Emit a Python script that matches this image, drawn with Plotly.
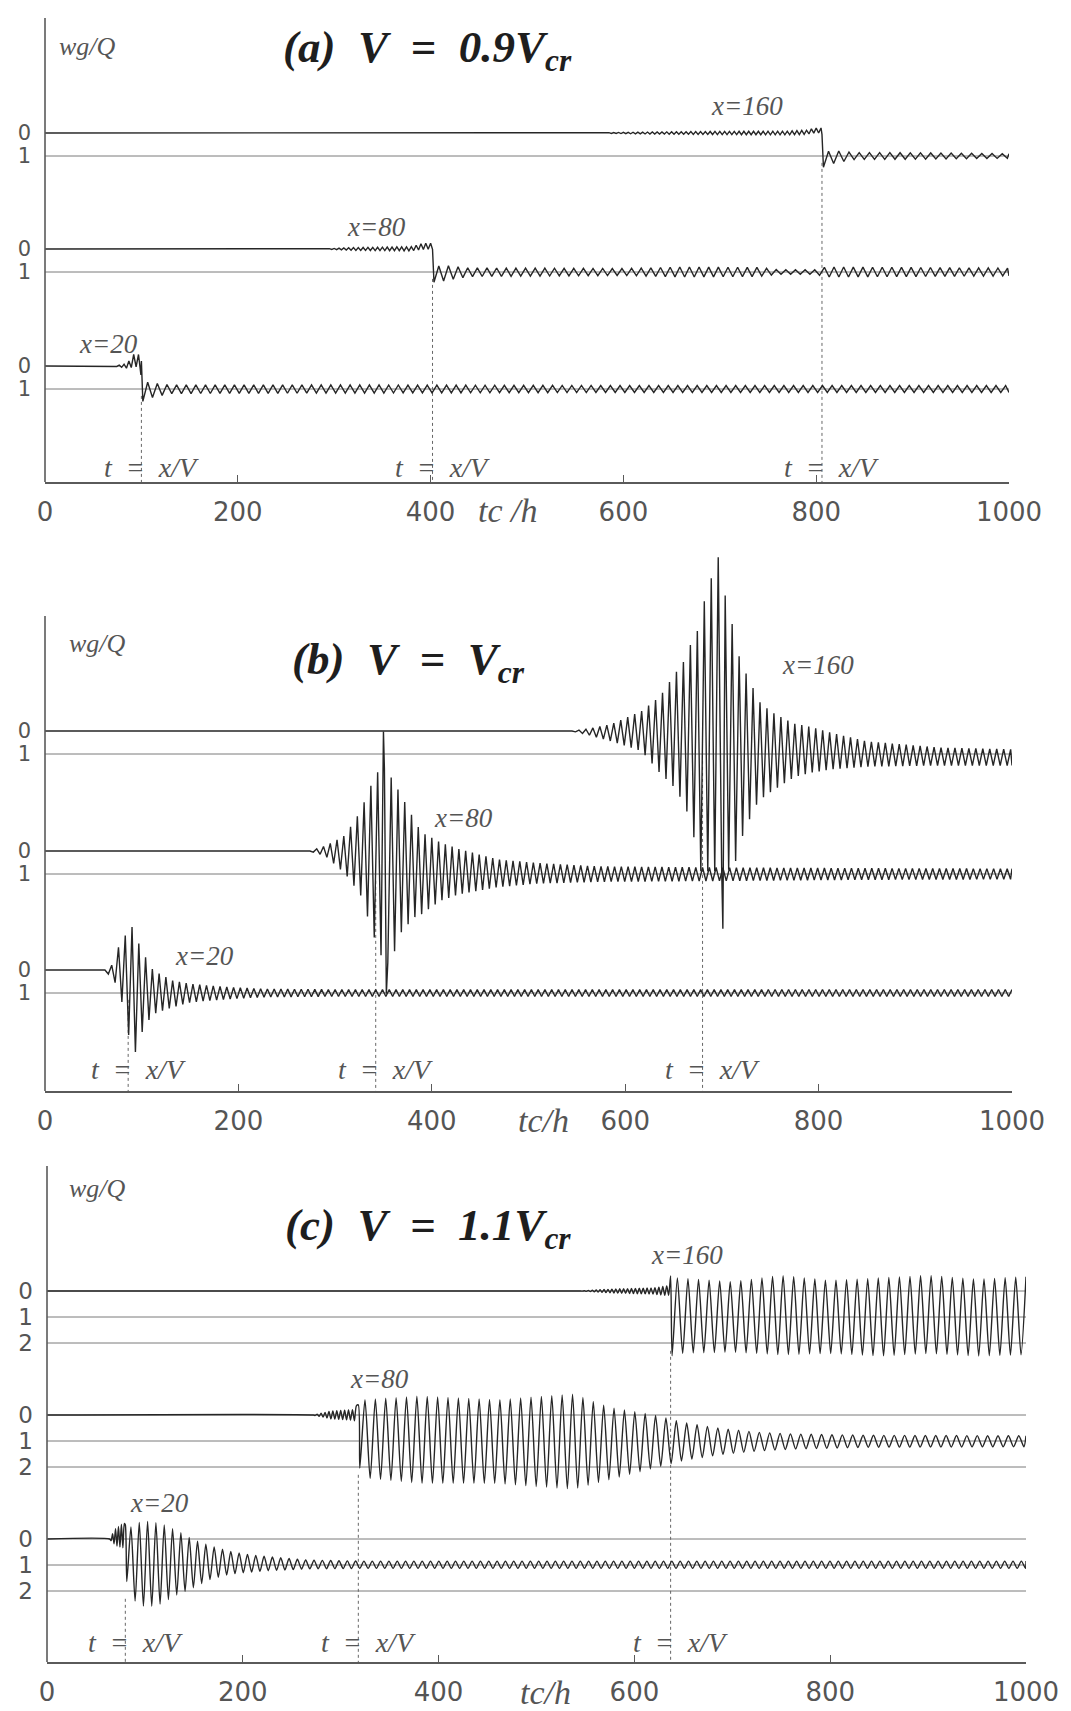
import numpy as np
import plotly.graph_objects as go

W, H = 1071, 1711
T_END = 1000.0

# ---------------- data ----------------
X_TICKS = [0, 200, 400, 600, 800, 1000]
STATIONS = [160, 80, 20]            # x value of each trace, top to bottom

# (a) V = 0.9 Vcr : arrival times t = x/V, periods (pre, post)
A_ARRIVAL = [806, 402, 100]
A_PERIOD = [(5.0, 10.6), (5.0, 10.0), (5.0, 10.0)]
A160_T = [560, 620, 700, 770, 790, 798, 805, 807, 815, 840, 900, 1000]
A160_UP = [0, -0.04, -0.07, -0.08, -0.12, -0.22, -0.22, 0.9, 0.75, 0.85, 0.86, 0.9]
A160_LO = [0, 0.04, 0.07, 0.08, 0.06, 0.0, 0.0, 1.5, 1.35, 1.15, 1.14, 1.1]
A80_T = [285, 320, 380, 392, 401, 403, 412, 440, 600, 660, 740, 760, 800, 810, 900, 1000]
A80_UP = [0, -0.06, -0.1, -0.25, -0.25, 0.8, 0.7, 0.82, 0.85, 0.78, 0.8, 0.9, 0.9, 0.78, 0.8, 0.83]
A80_LO = [0, 0.06, 0.08, 0.02, 0.0, 1.45, 1.4, 1.2, 1.15, 1.22, 1.2, 1.1, 1.1, 1.22, 1.2, 1.17]
A20_T = [72, 85, 92, 99, 101, 108, 130, 300, 600, 1000]
A20_UP = [0, -0.1, -0.5, -0.5, 0.65, 0.72, 0.82, 0.82, 0.85, 0.85]
A20_LO = [0, 0.1, 0.05, 0.0, 1.55, 1.4, 1.2, 1.18, 1.15, 1.15]

# (b) V = Vcr
B_ARRIVAL = [680, 342, 86]
B_PERIOD = [7.2, 7.0, 7.0]
B160_T = [545, 560, 586, 617, 636, 651, 662, 670, 677, 685, 690, 696, 703, 709, 715, 720,
          730, 737, 745, 756, 775, 794, 813, 850, 925, 1000]
B160_UP = [0, -0.08, -0.3, -0.87, -1.5, -2.46, -3.1, -4.05, -4.5, -6.4, -6.7, -7.6, -5.95,
           -5.0, -3.7, -2.9, -2.1, -1.35, -1.03, -0.71, -0.32, -0.16, 0.08, 0.45, 0.72, 0.8]
B160_LO = [0, 0.15, 0.45, 0.87, 1.83, 2.46, 3.25, 4.37, 6.1, 6.1, 6.1, 6.1, 6.1, 6.0, 5.6,
           4.7, 3.7, 3.1, 2.8, 2.5, 2.0, 1.8, 1.67, 1.55, 1.5, 1.5]
B160_SPIKE = [(701, 8.6)]
B80_T = [274, 290, 310, 326, 342, 350, 358, 366, 381, 389, 409, 429, 469, 508, 572, 700, 850, 1000]
B80_UP = [0, -0.22, -0.67, -1.7, -3.36, -3.6, -3.2, -2.6, -1.42, -0.82, -0.37, -0.07, 0.37,
          0.52, 0.67, 0.72, 0.75, 0.77]
B80_LO = [0, 0.22, 0.97, 1.87, 3.96, 4.8, 4.9, 3.66, 2.9, 2.76, 2.16, 1.87, 1.57, 1.42, 1.34,
          1.3, 1.25, 1.23]
B80_SPIKE = [(350, -5.2), (353, 6.2)]
B20_T = [62, 68, 76, 84, 88, 94, 102, 112, 132, 151, 191, 226, 300, 500, 1000]
B20_UP = [0, -0.1, -0.99, -1.57, -2.1, -1.42, -0.7, 0.03, 0.46, 0.61, 0.75, 0.82, 0.85, 0.85, 0.85]
B20_LO = [0, 0.3, 0.75, 2.2, 3.2, 3.6, 2.49, 1.91, 1.62, 1.4, 1.26, 1.18, 1.15, 1.15, 1.15]

# (c) V = 1.1 Vcr
C_ARRIVAL = [637, 318, 80]
C_PERIOD = [(4.0, 10.8), (4.0, 10.6), (3.0, 8.5)]
C160_T = [545, 580, 620, 634, 636, 638, 645, 700, 750, 800, 850, 900, 950, 1000]
C160_UP = [0, -0.08, -0.12, -0.2, -0.6, -0.5, -0.5, -0.35, -0.6, -0.4, -0.5, -0.6, -0.45, -0.55]
C160_LO = [0, 0.08, 0.12, 0.18, 0.15, 2.5, 2.4, 2.35, 2.45, 2.4, 2.5, 2.4, 2.5, 2.45]
C80_T = [272, 290, 312, 316, 317, 320, 382, 460, 500, 538, 575, 620, 650, 687, 724, 761, 836, 1000]
C80_UP = [0, -0.15, -0.2, -0.35, -0.35, -0.58, -0.73, -0.58, -0.7, -0.8, -0.29, 0.0, 0.29,
          0.51, 0.66, 0.73, 0.78, 0.8]
C80_LO = [0, 0.15, 0.2, 0.25, 0.25, 2.4, 2.63, 2.63, 2.75, 2.85, 2.48, 2.04, 1.75, 1.53, 1.39,
          1.31, 1.24, 1.22]
C20_T = [64, 70, 77, 79, 82, 89, 101, 116, 132, 148, 167, 187, 206, 226, 265, 320, 1000]
C20_UP = [0, -0.4, -0.6, -0.6, -0.3, -0.6, -0.68, -0.6, -0.34, 0.0, 0.27, 0.47, 0.6, 0.68,
          0.81, 0.85, 0.85]
C20_LO = [0, 0.25, 0.35, 0.3, 1.9, 2.36, 2.64, 2.5, 2.16, 1.9, 1.55, 1.35, 1.28, 1.22, 1.15,
          1.13, 1.13]

# ---------------- layout geometry (pixels in the 1071x1711 page) ----------------
PANELS = {
    "a": dict(x0=37, x1=1001, dy=-8, ytop=18, ydom_top=18, ybot=482, lev=[133, 249, 366],
              unit=23, nlev=2, label_y=468, title="(a)\u00a0 V\u00a0 =\u00a0 0.9V",
              title_xy=(419, 50), wg_xy=(79, 46), tch_xy=(499, 510), tch="tc /h",
              xlab=[(739, 106), (368, 227), (100, 344)], yfont=21, smooth=False),
    "b": dict(x0=37, x1=1004, dy=-9, ytop=617, ydom_top=548, ybot=1092, lev=[732, 852, 971],
              unit=23, nlev=2, label_y=1070, title="(b)\u00a0 V\u00a0 =\u00a0 V",
              title_xy=(400, 663), wg_xy=(89, 644), tch_xy=(535, 1121), tch="tc/h",
              xlab=[(810, 666), (455, 819), (196, 957)], yfont=21, smooth=False),
    "c": dict(x0=39, x1=1018, dy=-8, ytop=1166, ydom_top=1166, ybot=1662,
              lev=[1291, 1415, 1539], unit=26, nlev=3, label_y=1642,
              title="(c)\u00a0 V\u00a0 =\u00a0 1.1V", title_xy=(420, 1228),
              wg_xy=(89, 1188), tch_xy=(537, 1692), tch="tc/h",
              xlab=[(679, 1255), (371, 1379), (151, 1503)], yfont=23, smooth=True),
}

TRACE_COL = "#262626"
REF_COL = "#7a7a7a"
AXIS_COL = "#5a5a5a"
TXT_COL = "#555555"
SERIF = "Liberation Serif"
SANS = "DejaVu Sans"


def wave(tk, up, lo, p_pre, p_post, t_arr, spikes=()):
    ts, ws = [0.0, float(tk[0])], [0.0, 0.0]
    t = float(tk[0])
    use_lo = True
    crossed = t >= t_arr
    while t < T_END:
        p = p_post if t >= t_arr else p_pre
        tn = min(t + p / 2.0, T_END)
        if not crossed and tn >= t_arr:
            crossed = True
            ts.append(float(t_arr))
            ws.append(float(np.interp(t_arr - 0.5, tk, up)))
            tn = t_arr + 1.5
            ts.append(tn)
            ws.append(float(np.interp(tn, tk, lo)))
            t = tn
            use_lo = False
            continue
        ws.append(float(np.interp(tn, tk, lo if use_lo else up)))
        ts.append(tn)
        use_lo = not use_lo
        t = tn
    for st, sw in spikes:
        i = int(np.searchsorted(ts, st))
        ts.insert(i, float(st))
        ws.insert(i, float(sw))
    return np.array(ts), np.array(ws)


fig = go.Figure()

series = {
    "a": [(A160_T, A160_UP, A160_LO, A_PERIOD[0], A_ARRIVAL[0], ()),
          (A80_T, A80_UP, A80_LO, A_PERIOD[1], A_ARRIVAL[1], ()),
          (A20_T, A20_UP, A20_LO, A_PERIOD[2], A_ARRIVAL[2], ())],
    "b": [(B160_T, B160_UP, B160_LO, (B_PERIOD[0], B_PERIOD[0]), 1e9, B160_SPIKE),
          (B80_T, B80_UP, B80_LO, (B_PERIOD[1], B_PERIOD[1]), 1e9, B80_SPIKE),
          (B20_T, B20_UP, B20_LO, (B_PERIOD[2], B_PERIOD[2]), 1e9, ())],
    "c": [(C160_T, C160_UP, C160_LO, C_PERIOD[0], C_ARRIVAL[0], ()),
          (C80_T, C80_UP, C80_LO, C_PERIOD[1], C_ARRIVAL[1], ()),
          (C20_T, C20_UP, C20_LO, C_PERIOD[2], C_ARRIVAL[2], ())],
}
arrivals = {"a": A_ARRIVAL, "b": B_ARRIVAL, "c": C_ARRIVAL}

annotations = []
shapes = []
layout_axes = {}
for idx, key in enumerate(["a", "b", "c"]):
    P = PANELS[key]
    dy = P["dy"]
    sfx = "" if idx == 0 else str(idx + 1)
    xa, ya = "x" + sfx, "y" + sfx
    unit = P["unit"]
    lev = [v + dy for v in P["lev"]]
    ytop, ydom_top, ybot = P["ytop"] + dy, P["ydom_top"] + dy, P["ybot"] + dy
    offs = [(lv - lev[0]) / unit for lv in lev]
    ybot_val = (ybot - lev[0]) / unit
    ytop_val = (ydom_top - lev[0]) / unit

    def pap(xy):
        return xy[0] / W, 1 - (xy[1] + dy) / H

    # reference lines (levels 1 and 2; level 0 too for panel c)
    for off in offs:
        levs = [1, 2, 0] if P["nlev"] == 3 else [1]
        for lv in levs:
            fig.add_trace(go.Scatter(x=[0, T_END], y=[off + lv, off + lv], mode="lines",
                                     line=dict(color=REF_COL, width=1),
                                     xaxis=xa, yaxis=ya, showlegend=False, hoverinfo="skip"))
    # dotted t = x/V lines
    for k, ta in enumerate(arrivals[key]):
        fig.add_trace(go.Scatter(x=[ta, ta], y=[offs[k] + P["nlev"] - 1 + 0.3, ybot_val],
                                 mode="lines", line=dict(color="#666666", width=1, dash="dot"),
                                 xaxis=xa, yaxis=ya, showlegend=False, hoverinfo="skip"))
    # traces
    for k, (tk, up, lo, per, tarr, spk) in enumerate(series[key]):
        ts, ws = wave(tk, up, lo, per[0], per[1], tarr, spk)
        line = dict(color=TRACE_COL, width=1.4)
        if P["smooth"]:
            line.update(shape="spline", smoothing=0.7)
        fig.add_trace(go.Scatter(x=ts, y=offs[k] + ws, mode="lines", line=line,
                                 xaxis=xa, yaxis=ya, showlegend=False,
                                 name=f"x={STATIONS[k]}"))

    tickvals, ticktext = [], []
    for off in offs:
        for lv in range(P["nlev"]):
            tickvals.append(off + lv)
            ticktext.append(str(lv))

    layout_axes["xaxis" + sfx] = dict(
        domain=[P["x0"] / W, P["x1"] / W], range=[0, T_END], anchor=ya, automargin=False,
        showline=True, linecolor=AXIS_COL, linewidth=1.6, ticks="inside", ticklen=7,
        tickcolor=AXIS_COL, tickwidth=1.4, tickvals=X_TICKS,
        ticktext=[str(v) for v in X_TICKS], showgrid=False, zeroline=False,
        tickfont=dict(family=SANS, size=26, color=TXT_COL), ticklabelstandoff=6)
    layout_axes["yaxis" + sfx] = dict(
        domain=[1 - ybot / H, 1 - ydom_top / H], range=[ybot_val, ytop_val],
        anchor=xa, automargin=False, showline=False, ticks="",
        tickvals=tickvals, ticktext=ticktext, showgrid=False, zeroline=False,
        tickfont=dict(family=SANS, size=P["yfont"], color=TXT_COL), ticklabelstandoff=13)
    # visible y-axis line (shorter than the plotting area in panel b)
    shapes.append(dict(type="line", xref="paper", yref="paper",
                       x0=P["x0"] / W, x1=P["x0"] / W,
                       y0=1 - ybot / H, y1=1 - ytop / H,
                       line=dict(color=AXIS_COL, width=1.6)))

    common = dict(xref="paper", yref="paper", showarrow=False,
                  xanchor="center", yanchor="middle")
    ax, ay = pap(P["wg_xy"])
    annotations.append(dict(x=ax, y=ay, text="<i>wg/Q</i>",
                            font=dict(family=SERIF, size=26, color=TXT_COL), **common))
    ax, ay = pap(P["title_xy"])
    annotations.append(dict(x=ax, y=ay,
                            text="<b><i>" + P["title"] + "</i></b><sub><b><i>cr</i></b></sub>",
                            font=dict(family=SERIF, size=45, color="#1e1e1e"), **common))
    ax, ay = pap(P["tch_xy"])
    annotations.append(dict(x=ax, y=ay, text="<i>" + P["tch"] + "</i>",
                            font=dict(family=SERIF, size=34, color=TXT_COL), **common))
    for k, xy in enumerate(P["xlab"]):
        ax, ay = pap(xy)
        annotations.append(dict(x=ax, y=ay, text=f"<i>x={STATIONS[k]}</i>",
                                font=dict(family=SERIF, size=27, color=TXT_COL), **common))
    for ta in arrivals[key]:
        annotations.append(dict(x=ta, y=1 - (P["label_y"] + dy) / H, xref=xa, yref="paper",
                                showarrow=False, xshift=10, xanchor="center", yanchor="middle",
                                text="<i>t\u00a0 =\u00a0 x/V</i>",
                                font=dict(family=SERIF, size=28, color=TXT_COL)))

fig.update_layout(width=W, height=H, margin=dict(l=0, r=0, t=0, b=0, autoexpand=False),
                  paper_bgcolor="white", plot_bgcolor="rgba(0,0,0,0)",
                  annotations=annotations, shapes=shapes, **layout_axes)

fig.write_html("out.html")
